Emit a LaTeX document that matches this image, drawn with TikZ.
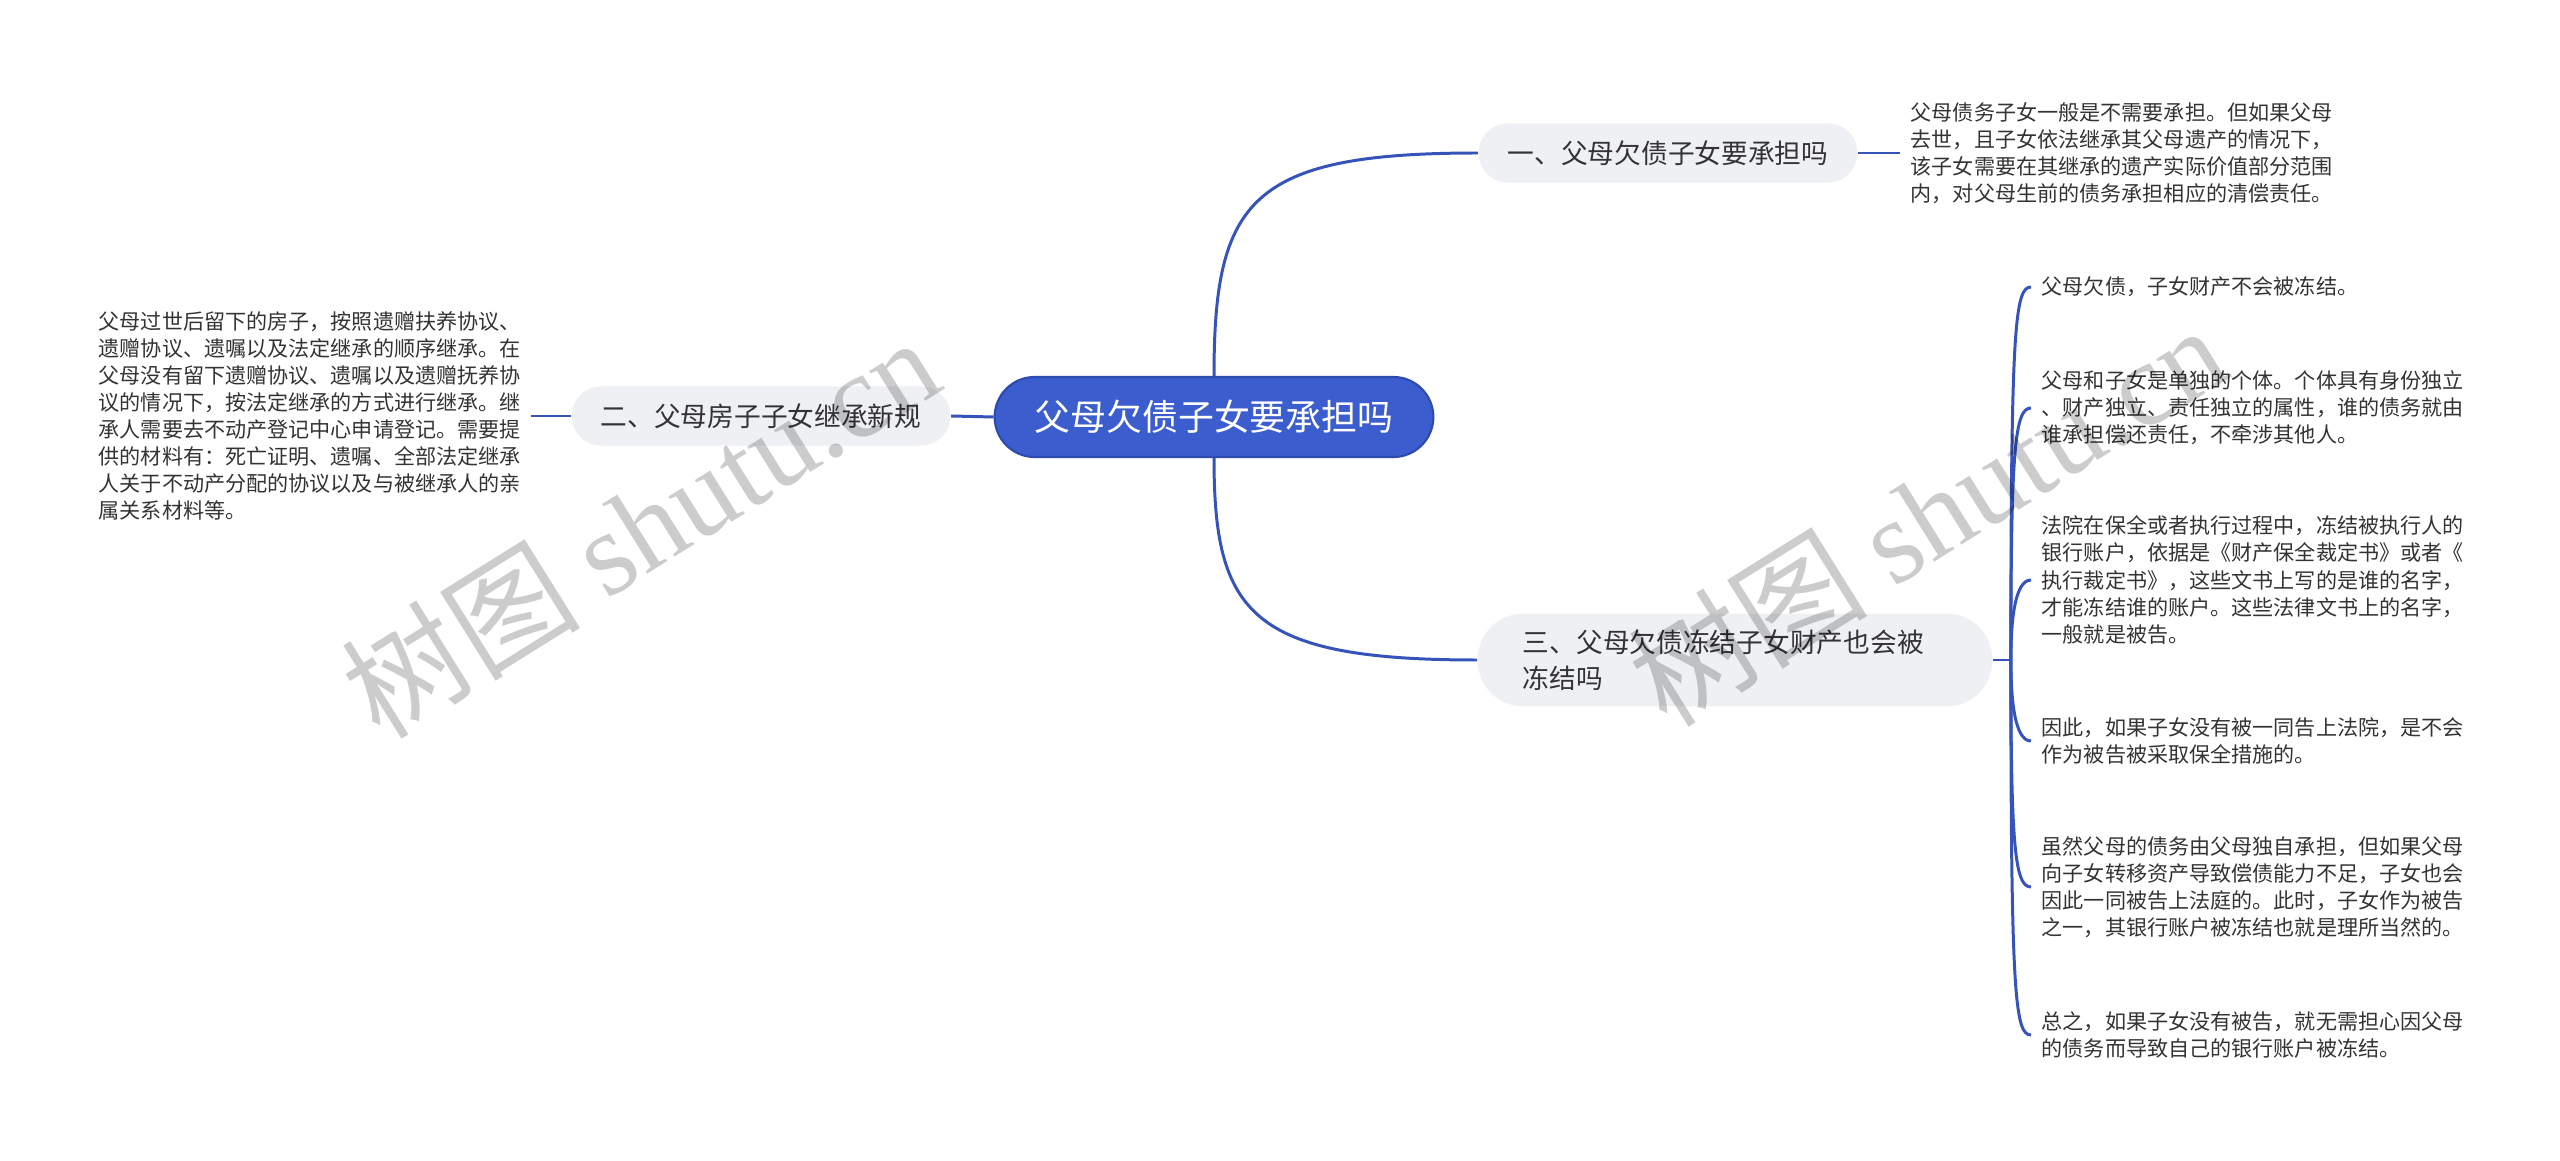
\documentclass[tikz,border=0pt]{standalone}
\usepackage{fontspec}
\setmainfont{Noto Sans CJK SC}
\newfontfamily\wmlatin{Liberation Serif}
\usetikzlibrary{calc, positioning}

\definecolor{rootblue}{HTML}{3B5DCD}
\definecolor{rootedge}{HTML}{2D4BAE}
\definecolor{linkblue}{HTML}{3553B8}
\definecolor{branchgray}{HTML}{EEF0F4}
\definecolor{inkgray}{HTML}{333333}

\tikzset{
  root/.style={fill=rootblue, draw=rootedge, line width=0.6pt, text=white,
    rounded corners=0.4cm, minimum height=0.8cm, inner xsep=0.4cm,
    font=\fontsize{10.2}{12}\selectfont},
  branch/.style={fill=branchgray, text=inkgray, rounded corners=0.29cm,
    minimum height=0.59cm, inner xsep=0.29cm,
    font=\fontsize{7.6}{10.2}\selectfont},
  leaf/.style={anchor=west, text=inkgray, align=left, inner xsep=0.1cm,
    inner ysep=0pt, font=\fontsize{6}{7.7}\selectfont},
  link/.style={draw=linkblue, line width=0.85pt},
  watermark/.style={text=black, text opacity=0.2, rotate=32,
    font=\fontsize{34}{34}\selectfont}
}

\begin{document}
\begin{tikzpicture}[x=0.01cm, y=-0.01cm]
\useasboundingbox (0,0) rectangle (2560,1161);

% centre and main branches
\node[root] (root) at (1214,417) {父母欠债子女要承担吗};
\node[branch] (b1) at (1668,153) {一、父母欠债子女要承担吗};
\node[branch] (b2) at (761,416) {二、父母房子子女继承新规};
\node[branch, text width=4.24cm, align=left, inner xsep=0.45cm,
  inner ysep=0.16cm, rounded corners=0.45cm] (b3) at (1735,660)
  {三、父母欠债冻结子女财产也会被\\冻结吗};

% leaves
\node[leaf] (l1) at (1900,153) {父母债务子女一般是不需要承担。但如果父母\\
  去世，且子女依法继承其父母遗产的情况下，\\
  该子女需要在其继承的遗产实际价值部分范围\\
  内，对父母生前的债务承担相应的清偿责任。};
\node[leaf] (l2) at (88,416) {父母过世后留下的房子，按照遗赠扶养协议、\\
  遗赠协议、遗嘱以及法定继承的顺序继承。在\\
  父母没有留下遗赠协议、遗嘱以及遗赠抚养协\\
  议的情况下，按法定继承的方式进行继承。继\\
  承人需要去不动产登记中心申请登记。需要提\\
  供的材料有：死亡证明、遗嘱、全部法定继承\\
  人关于不动产分配的协议以及与被继承人的亲\\
  属关系材料等。};
\node[leaf] (l3a) at (2031,287) {父母欠债，子女财产不会被冻结。};
\node[leaf] (l3b) at (2031,408) {父母和子女是单独的个体。个体具有身份独立\\
  、财产独立、责任独立的属性，谁的债务就由\\
  谁承担偿还责任，不牵涉其他人。};
\node[leaf] (l3c) at (2031,580) {法院在保全或者执行过程中，冻结被执行人的\\
  银行账户，依据是《财产保全裁定书》或者《\\
  执行裁定书》，这些文书上写的是谁的名字，\\
  才能冻结谁的账户。这些法律文书上的名字，\\
  一般就是被告。};
\node[leaf] (l3d) at (2031,741) {因此，如果子女没有被一同告上法院，是不会\\
  作为被告被采取保全措施的。};
\node[leaf] (l3e) at (2031,887) {虽然父母的债务由父母独自承担，但如果父母\\
  向子女转移资产导致偿债能力不足，子女也会\\
  因此一同被告上法庭的。此时，子女作为被告\\
  之一，其银行账户被冻结也就是理所当然的。};
\node[leaf] (l3f) at (2031,1035) {总之，如果子女没有被告，就无需担心因父母\\
  的债务而导致自己的银行账户被冻结。};

% connectors
\draw[link] (root.west) -- (b2.east);
\draw[link] (b2.west) -- (l2.east);
\draw[link] (root.north) .. controls ($(root.north |- b1.west)+(0,47)$)
  and ($(root.north |- b1.west)+(36,0)$) .. (b1.west);
\draw[link] (root.south) .. controls ($(root.south |- b3.west)+(0,-47)$)
  and ($(root.south |- b3.west)+(36,0)$) .. (b3.west);
\draw[link] (b1.east) -- (l1.west);

\coordinate (fork) at ([xshift=0.18cm]b3.east);
\draw[link] (b3.east) -- (fork);
\foreach \leaf in {l3a,l3b,l3c}
  \draw[link] (fork) .. controls ($(fork |- \leaf.west)+(0,40)$)
    and ($(fork |- \leaf.west)+(4,0)$) .. (\leaf.west);
\foreach \leaf in {l3d,l3e,l3f}
  \draw[link] (fork) .. controls ($(fork |- \leaf.west)+(0,-40)$)
    and ($(fork |- \leaf.west)+(4,0)$) .. (\leaf.west);

% watermark
\node[watermark] at (640,526) {树图 {\wmlatin shutu.cn}};
\node[watermark] at (1927,514) {树图 {\wmlatin shutu.cn}};
\end{tikzpicture}
\end{document}
